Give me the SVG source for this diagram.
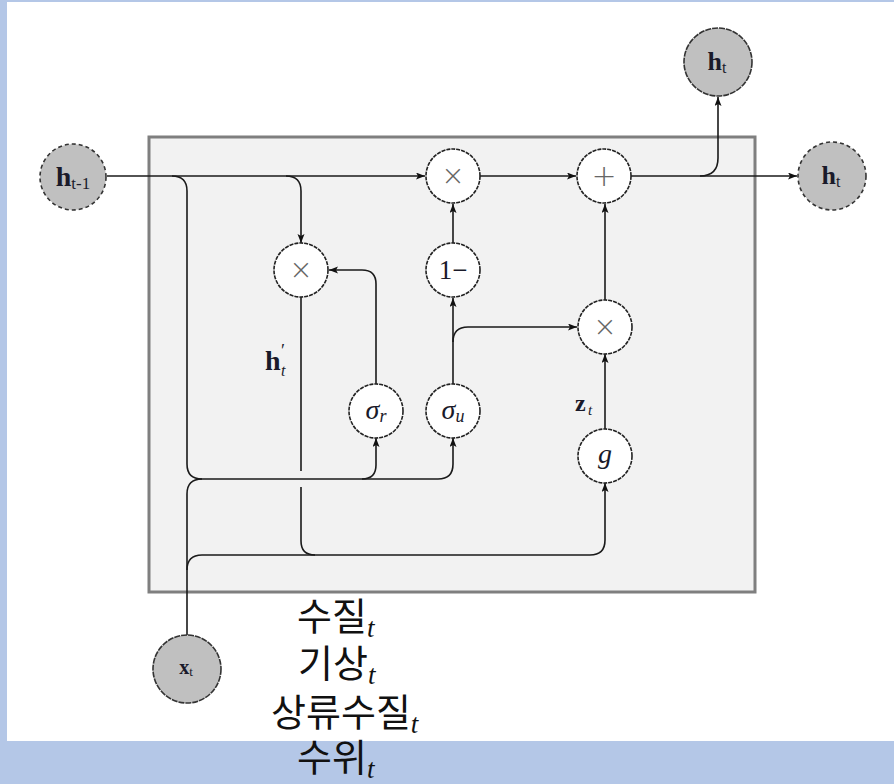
<svg xmlns="http://www.w3.org/2000/svg" width="894" height="784" viewBox="0 0 894 784">
<style>
.wire{fill:none;stroke:#1a1a1a;stroke-width:1.6}
.op{fill:#ffffff;stroke:#222;stroke-width:1.6;stroke-dasharray:4 1}
.io{fill:#c0c0c0;stroke:#333;stroke-width:1.6;stroke-dasharray:4 3}
.ios{fill:#c0c0c0;stroke:#333;stroke-width:1.6;stroke-dasharray:6 1}
.bf{font-family:"Liberation Serif",serif;font-weight:bold;fill:#1a1a2a}
.it{font-family:"Liberation Serif",serif;font-style:italic;fill:#1a1a2a}
.rm{font-family:"Liberation Serif",serif;fill:#1a1a2a}
.sym{font-family:"DejaVu Sans",sans-serif;font-weight:200;fill:#666}
.kr{font-family:"Noto Sans CJK KR","Noto Sans",sans-serif;font-size:38px;fill:#111}
.kt{font-family:"Liberation Serif",serif;font-style:italic;font-size:27px}
</style>
<defs>
<marker id="ar" markerUnits="userSpaceOnUse" markerWidth="10" markerHeight="8" refX="9" refY="3.5" orient="auto">
<path d="M0,0 L9,3.5 L0,7 L2,3.5 z" fill="#111"/>
</marker>
</defs>
<rect x="0" y="0" width="894" height="784" fill="#b4c7e7"/>
<rect x="7" y="2" width="887" height="739" fill="#ffffff"/>
<rect id="cell" x="149" y="137" width="606" height="455" fill="#f2f2f2" stroke="#7f7f7f" stroke-width="3"/>

<g id="connectors">
<path class="wire" d="M107,176 H425" marker-end="url(#ar)"/>
<path class="wire" d="M172,176 Q187,176 187,191 V464 Q187,479 202,479 H438 Q453,479 453,464 V438" marker-end="url(#ar)"/>
<path class="wire" d="M362,479 Q376,479 376,465 V438" marker-end="url(#ar)"/>
<path class="wire" d="M187,635 V494 Q187,479 202,479"/>
<path class="wire" d="M187,570 Q187,555 202,555 H590 Q605,555 605,540 V483" marker-end="url(#ar)"/>
<path class="wire" d="M301,297 V471"/>
<path class="wire" d="M301,487 V541 Q301,555 315,555"/>
<path class="wire" d="M286,176 Q301,176 301,191 V243" marker-end="url(#ar)"/>
<path class="wire" d="M376,384 V284 Q376,270 362,270 H329" marker-end="url(#ar)"/>
<path class="wire" d="M453,384 V298" marker-end="url(#ar)"/>
<path class="wire" d="M453,342 Q453,327 468,327 H577" marker-end="url(#ar)"/>
<path class="wire" d="M453,243 V204" marker-end="url(#ar)"/>
<path class="wire" d="M480,176 H576" marker-end="url(#ar)"/>
<path class="wire" d="M605,300 V204" marker-end="url(#ar)"/>
<path class="wire" d="M605,429 V354" marker-end="url(#ar)"/>
<path class="wire" d="M631,176 H797" marker-end="url(#ar)"/>
<path class="wire" d="M700,176 Q718,176 718,158 V97" marker-end="url(#ar)"/>
</g>

<g id="h_prev">
<circle class="io" cx="73" cy="177" r="33"/>
<text class="bf" x="73" y="186" font-size="28" text-anchor="middle">h<tspan font-size="17" font-weight="normal" dy="3">t-1</tspan></text>
</g>
<g id="h_out_top">
<circle class="ios" cx="718" cy="62" r="34"/>
<text class="bf" x="717" y="70" font-size="26" text-anchor="middle">h<tspan font-size="16" font-weight="normal" dy="3">t</tspan></text>
</g>
<g id="h_out_right">
<circle class="io" cx="832" cy="176" r="34"/>
<text class="bf" x="831" y="184" font-size="26" text-anchor="middle">h<tspan font-size="16" font-weight="normal" dy="3">t</tspan></text>
</g>
<g id="x_in">
<circle class="ios" cx="187" cy="669" r="34"/>
<text class="bf" x="186" y="674" font-size="20" text-anchor="middle">x<tspan font-size="13" font-weight="normal" dy="2">t</tspan></text>
</g>

<g id="mul_top">
<circle class="op" cx="453" cy="176" r="27"/>
<text class="sym" x="453" y="185" font-size="28" text-anchor="middle">×</text>
</g>
<g id="plus">
<circle class="op" cx="604" cy="176" r="27"/>
<text class="sym" x="604" y="186" font-size="30" text-anchor="middle">+</text>
</g>
<g id="one_minus">
<circle class="op" cx="453" cy="270" r="27"/>
<text class="rm" x="453" y="279" font-size="27" text-anchor="middle">1−</text>
</g>
<g id="mul_left">
<circle class="op" cx="301" cy="270" r="27"/>
<text class="sym" x="301" y="279" font-size="28" text-anchor="middle">×</text>
</g>
<g id="sigma_r">
<circle class="op" cx="376" cy="411" r="27"/>
<text class="it" x="376" y="419" font-size="28" text-anchor="middle">σ<tspan font-size="18" dy="3">r</tspan></text>
</g>
<g id="sigma_u">
<circle class="op" cx="453" cy="411" r="27"/>
<text class="it" x="453" y="419" font-size="28" text-anchor="middle">σ<tspan font-size="18" dy="3">u</tspan></text>
</g>
<g id="mul_right">
<circle class="op" cx="605" cy="327" r="27"/>
<text class="sym" x="605" y="336" font-size="28" text-anchor="middle">×</text>
</g>
<g id="g_node">
<circle class="op" cx="605" cy="456" r="27"/>
<text class="it" x="605" y="463" font-size="28" text-anchor="middle">g</text>
</g>

<g id="labels">
<text class="bf" x="265" y="370" font-size="28">h</text>
<text class="rm" x="281" y="357" font-size="18">′</text>
<text class="it" x="281" y="376" font-size="16">t</text>
<text class="bf" x="575" y="411" font-size="24">z</text>
<text class="it" x="588" y="415" font-size="15">t</text>
</g>

<g id="inputs_text">
<text class="kr" x="297" y="630">수질<tspan class="kt" dy="7">t</tspan></text>
<text class="kr" x="298" y="677">기상<tspan class="kt" dy="7">t</tspan></text>
<text class="kr" x="271" y="726">상류수질<tspan class="kt" dy="7">t</tspan></text>
<text class="kr" x="297" y="771">수위<tspan class="kt" dy="7">t</tspan></text>
</g>
</svg>
